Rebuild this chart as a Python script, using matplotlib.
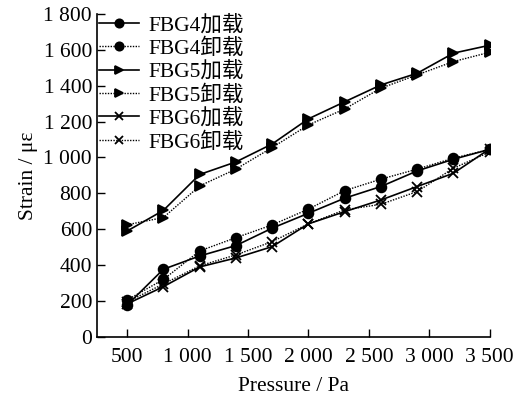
import numpy as np
import matplotlib.pyplot as plt
from matplotlib.ticker import FuncFormatter

plt.rcParams['font.family'] = ['Liberation Serif', 'Noto Sans CJK SC']
plt.rcParams['mathtext.fontset'] = 'stix'

pressure = [500, 800, 1100, 1400, 1700, 2000, 2300, 2600, 2900, 3200, 3500]

fbg4_load = [178, 377, 451, 509, 606, 689, 773, 838, 925, 990, 1045]
fbg4_unload = [206, 320, 479, 553, 624, 712, 815, 879, 935, 996, 1045]
fbg5_load = [590, 705, 905, 975, 1075, 1215, 1310, 1404, 1469, 1581, 1625]
fbg5_unload = [625, 665, 841, 935, 1055, 1181, 1270, 1386, 1460, 1534, 1586]
fbg6_load = [184, 280, 390, 440, 503, 630, 698, 763, 838, 912, 1048]
fbg6_unload = [195, 295, 396, 457, 531, 630, 708, 739, 810, 940, 1030]

x_ticks = [500, 1000, 1500, 2000, 2500, 3000, 3500]
y_ticks = list(range(0, 1801, 200))

series = [
    ('FBG4加载', fbg4_load, '-', 'o'),
    ('FBG4卸载', fbg4_unload, (0, (1, 1)), 'o'),
    ('FBG5加载', fbg5_load, '-', '>'),
    ('FBG5卸载', fbg5_unload, (0, (1, 1)), '>'),
    ('FBG6加载', fbg6_load, '-', 'x'),
    ('FBG6卸载', fbg6_unload, (0, (1, 1)), 'x'),
]


def sep(v, pos):
    s = f'{int(v):,}'
    return s.replace(',', ' ')


fig = plt.figure(figsize=(5.21, 3.95), dpi=100)
ax = fig.add_axes([0.186, 0.147, 0.754, 0.818])

for name, vals, ls, mk in series:
    ax.plot(pressure, vals, color='black', linestyle=ls, linewidth=1.2 if ls == '-' else 1.0,
            marker=mk, markersize=7, markeredgewidth=1.3, label=name)

ax.set_xlim(250, 3500)
ax.set_ylim(0, 1800)
ax.set_xticks(x_ticks)
ax.set_yticks(y_ticks)
ax.xaxis.set_major_formatter(FuncFormatter(sep))
ax.yaxis.set_major_formatter(FuncFormatter(sep))
ax.tick_params(direction='in', length=6, labelsize=15.5, width=1)
ax.tick_params(axis='x', pad=8)
ax.spines['top'].set_visible(False)
ax.spines['right'].set_visible(False)
ax.spines['left'].set_linewidth(1.2)
ax.spines['bottom'].set_linewidth(1.2)

ax.set_xlabel('Pressure / Pa', fontsize=15.5, labelpad=7)
ax.set_ylabel('Strain / με', fontsize=15.5, labelpad=4)

leg = ax.legend(loc='upper left', frameon=False, fontsize=15.5, handlelength=1.85,
                handletextpad=0.45, labelspacing=0.14, borderaxespad=0.0,
                borderpad=0.0, bbox_to_anchor=(0.005, 0.997), markerscale=0.85)

fig.savefig('out.png', dpi=100)
